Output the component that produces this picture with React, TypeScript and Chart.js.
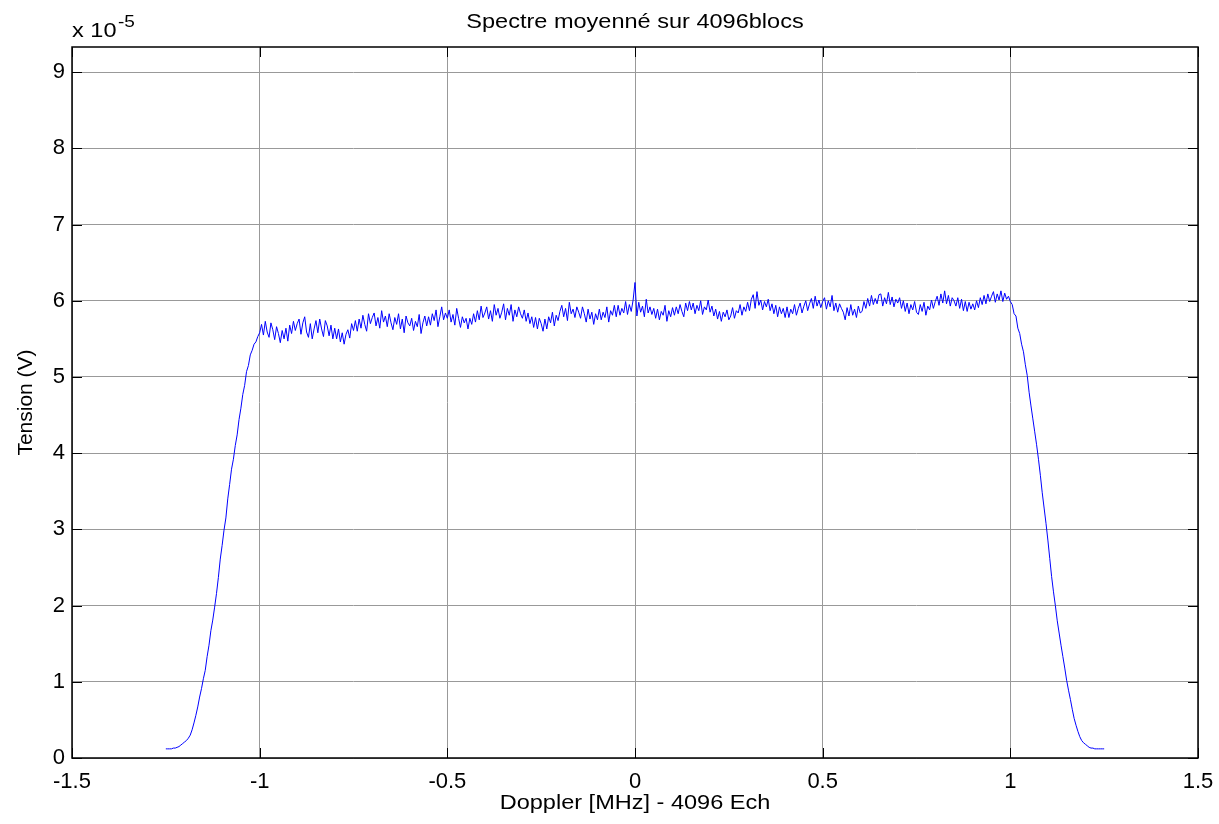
import React, { useEffect, useRef } from "react";
import { Chart, registerables } from "chart.js";

Chart.register(...registerables);

// ---- Texts ----
const TITLE = "Spectre moyenné sur 4096blocs";
const X_LABEL = "Doppler [MHz] - 4096 Ech";
const Y_LABEL = "Tension (V)";
const Y_EXPONENT_BASE = "x 10";
const Y_EXPONENT = "-5";

// ---- Axes ----
const X_TICKS = [-1.5, -1, -0.5, 0, 0.5, 1, 1.5];
const Y_TICKS = [0, 1, 2, 3, 4, 5, 6, 7, 8, 9];
const X_MIN = -1.5;
const X_MAX = 1.5;
const Y_MIN = 0;
const Y_MAX = 9.33;

// ---- Frequency grid of the spectrum (MHz) ----
const FREQ_START = -1.25;
const FREQ_STEP = 0.005;

// ---- Averaged spectrum, in units of 1e-5 V ----
const LEFT_EDGE = [
  0.12, 0.12, 0.12, 0.12, 0.13, 0.13, 0.14, 0.15, 0.17, 0.19,
  0.21, 0.23, 0.26, 0.30, 0.37, 0.46, 0.56, 0.67, 0.80, 0.91,
  1.04, 1.15, 1.33, 1.48, 1.67, 1.81, 1.98, 2.16, 2.37, 2.61,
  2.79, 2.99, 3.15, 3.40, 3.59, 3.79, 3.92, 4.10, 4.24, 4.44,
  4.59, 4.77, 4.89, 5.07, 5.15, 5.29, 5.35, 5.43, 5.46, 5.53,
  5.58,
];

const PLATEAU = [
  5.69, 5.55, 5.73, 5.59, 5.52, 5.71, 5.62, 5.49, 5.66, 5.57,
  5.45, 5.61, 5.50, 5.64, 5.47, 5.68, 5.57, 5.73, 5.61, 5.70,
  5.76, 5.56, 5.71, 5.79, 5.59, 5.52, 5.70, 5.50, 5.63, 5.74,
  5.58, 5.76, 5.63, 5.53, 5.74, 5.67, 5.54, 5.68, 5.50, 5.64,
  5.50, 5.63, 5.46, 5.58, 5.43, 5.56, 5.62, 5.51, 5.70, 5.61,
  5.74, 5.60, 5.76, 5.64, 5.81, 5.69, 5.60, 5.83, 5.70, 5.78,
  5.84, 5.67, 5.78, 5.64, 5.87, 5.72, 5.80, 5.66, 5.83, 5.71,
  5.62, 5.78, 5.69, 5.83, 5.63, 5.76, 5.58, 5.80, 5.71, 5.67,
  5.77, 5.61, 5.73, 5.66, 5.82, 5.57, 5.71, 5.80, 5.67, 5.79,
  5.68, 5.83, 5.74, 5.88, 5.66, 5.79, 5.92, 5.75, 5.84, 5.77,
  5.88, 5.72, 5.82, 5.68, 5.90, 5.77, 5.65, 5.79, 5.71, 5.77,
  5.63, 5.77, 5.69, 5.83, 5.72, 5.87, 5.75, 5.93, 5.78, 5.84,
  5.92, 5.76, 5.87, 5.73, 5.95, 5.81, 5.90, 5.77, 5.85, 5.96,
  5.75, 5.90, 5.81, 5.95, 5.73, 5.88, 5.79, 5.92, 5.83, 5.77,
  5.88, 5.73, 5.84, 5.70, 5.79, 5.65, 5.78, 5.63, 5.77, 5.70,
  5.60, 5.76, 5.63, 5.79, 5.71, 5.85, 5.67, 5.81, 5.74, 5.86,
  5.94, 5.79, 5.90, 5.74, 5.98, 5.83, 5.89, 5.78, 5.92, 5.85,
  5.77, 5.92, 5.83, 5.72, 5.89, 5.76, 5.85, 5.69, 5.83, 5.75,
  5.89, 5.75, 5.85, 5.78, 5.92, 5.72, 5.87, 5.81, 5.94, 5.79,
  5.94, 5.81, 5.90, 5.84, 5.99, 5.82, 5.95, 5.86, 6.01, 6.24,
  5.80, 5.98, 5.85, 5.93, 5.79, 6.02, 5.84, 5.92, 5.82, 5.90,
  5.77, 5.89, 5.75, 5.86, 5.81, 5.94, 5.73, 5.87, 5.79, 5.91,
  5.81, 5.92, 5.83, 5.95, 5.86, 5.79, 5.97, 5.87, 5.99, 5.88,
  5.97, 5.83, 5.94, 5.87, 6.00, 5.82, 5.92, 5.88, 6.01, 5.85,
  5.93, 5.80, 5.89, 5.76, 5.86, 5.73, 5.85, 5.79, 5.88, 5.75,
  5.80, 5.91, 5.77, 5.87, 5.84, 5.95, 5.81, 5.92, 5.86, 5.98,
  5.87, 6.02, 6.08, 5.90, 6.12, 5.94, 6.01, 5.88, 5.99, 5.92,
  6.02, 5.87, 5.96, 5.83, 5.94, 5.79, 5.92, 5.83, 5.90, 5.78,
  5.92, 5.78, 5.89, 5.83, 5.95, 5.81, 5.90, 5.97, 5.84, 5.93,
  6.00, 5.87, 5.96, 6.03, 5.90, 6.06, 5.93, 6.01, 5.91, 5.99,
  6.04, 5.89, 6.00, 5.92, 6.07, 5.87, 5.97, 5.85, 5.96, 5.90,
  5.85, 5.75, 5.91, 5.80, 5.95, 5.81, 5.89, 5.78, 5.93, 5.84,
  5.86, 5.99, 5.90, 6.03, 5.93, 6.07, 5.95, 6.03, 5.96, 6.08,
  6.09, 5.93, 6.04, 5.96, 6.11, 5.95, 6.05, 5.92, 6.02, 5.97,
  6.04, 5.90, 6.00, 5.86, 5.97, 5.83, 5.95, 5.88, 5.99, 5.85,
  5.82, 5.95, 5.86, 5.98, 5.81, 5.93, 5.88, 6.01, 5.90, 5.99,
  6.06, 5.94, 6.09, 5.97, 6.13, 5.96, 6.07, 5.93, 6.04, 6.00,
  5.93, 6.04, 5.90, 6.02, 5.87, 5.99, 5.86, 5.98, 5.89, 5.96,
  5.88, 6.00, 5.91, 6.04, 5.95, 6.07, 5.96, 6.09, 5.99, 6.06,
  6.12, 5.98, 6.09, 6.01, 6.13, 5.99, 6.10, 6.02, 6.06,
];

const RIGHT_EDGE = [
  5.99, 5.95, 5.83, 5.80, 5.64, 5.57, 5.43, 5.33, 5.16, 5.02,
  4.80, 4.62, 4.45, 4.28, 4.11, 3.92, 3.71, 3.48, 3.28, 3.08,
  2.86, 2.62, 2.38, 2.18, 2.00, 1.80, 1.64, 1.48, 1.33, 1.18,
  1.02, 0.89, 0.77, 0.64, 0.52, 0.43, 0.35, 0.28, 0.23, 0.20,
  0.18, 0.16, 0.14, 0.13, 0.13, 0.12, 0.12, 0.12, 0.12, 0.12,
  0.12,
];

const SPECTRUM = [...LEFT_EDGE, ...PLATEAU, ...RIGHT_EDGE];

const FONT = "'Liberation Sans', Arial, Helvetica, sans-serif";
const STRETCH = 1.12;

function stretchedText(
  ctx: CanvasRenderingContext2D,
  text: string,
  x: number,
  y: number,
  size: number,
  align: CanvasTextAlign,
  baseline: CanvasTextBaseline
) {
  ctx.save();
  ctx.translate(x, y);
  ctx.scale(STRETCH, 1);
  ctx.font = `${size}px ${FONT}`;
  ctx.textAlign = align;
  ctx.textBaseline = baseline;
  ctx.fillText(text, 0, 0);
  ctx.restore();
}

const matlabFrame = {
  id: "matlabFrame",
  afterDraw(chart: any) {
    const { ctx, chartArea: a, scales } = chart;
    const xs = scales.x;
    const ys = scales.y;
    const TL = 10;
    ctx.save();
    ctx.strokeStyle = "#000";
    ctx.lineWidth = 1;
    ctx.beginPath();
    for (const v of X_TICKS) {
      const px = Math.round(xs.getPixelForValue(v)) + 0.5;
      ctx.moveTo(px, a.bottom);
      ctx.lineTo(px, a.bottom - TL);
      ctx.moveTo(px, a.top);
      ctx.lineTo(px, a.top + TL);
    }
    for (const v of Y_TICKS) {
      const py = Math.round(ys.getPixelForValue(v)) + 0.5;
      ctx.moveTo(a.left, py);
      ctx.lineTo(a.left + TL, py);
      ctx.moveTo(a.right, py);
      ctx.lineTo(a.right - TL, py);
    }
    ctx.stroke();
    ctx.lineWidth = 1.5;
    ctx.strokeRect(a.left, a.top, a.right - a.left, a.bottom - a.top);

    ctx.fillStyle = "#000";
    const cx = (a.left + a.right) / 2;
    stretchedText(ctx, TITLE, cx, 22, 21, "center", "middle");
    stretchedText(ctx, X_LABEL, cx, 803, 21, "center", "middle");
    stretchedText(ctx, Y_EXPONENT_BASE, a.left, 37, 21, "left", "alphabetic");
    stretchedText(ctx, Y_EXPONENT, a.left + 46, 27, 17, "left", "alphabetic");

    ctx.save();
    ctx.translate(26, (a.top + a.bottom) / 2);
    ctx.rotate(-Math.PI / 2);
    ctx.font = `21px ${FONT}`;
    ctx.textAlign = "center";
    ctx.textBaseline = "middle";
    ctx.fillText(Y_LABEL, 0, 0);
    ctx.restore();

    ctx.restore();
  },
};

export default function App() {
  const canvasRef = useRef<HTMLCanvasElement | null>(null);

  useEffect(() => {
    const canvas = canvasRef.current;
    if (!canvas) return;
    const points = SPECTRUM.map((v, i) => ({ x: FREQ_START + i * FREQ_STEP, y: v }));
    const chart = new Chart(canvas, {
      type: "scatter",
      data: {
        datasets: [
          {
            data: points,
            showLine: true,
            borderColor: "#0000ff",
            borderWidth: 1,
            pointRadius: 0,
            pointHoverRadius: 0,
            tension: 0,
          },
        ],
      },
      options: {
        responsive: false,
        animation: false,
        events: [],
        layout: { padding: { left: 0, right: 21, top: 47, bottom: 0 } },
        plugins: {
          legend: { display: false },
          title: { display: false },
          tooltip: { enabled: false },
        },
        scales: {
          x: {
            type: "linear",
            min: X_MIN,
            max: X_MAX,
            afterBuildTicks: (scale: any) => {
              scale.ticks = X_TICKS.map((v) => ({ value: v }));
            },
            afterFit: (scale: any) => {
              scale.height = 66;
              scale.paddingLeft = 0;
              scale.paddingRight = 0;
            },
            ticks: {
              autoSkip: false,
              maxRotation: 0,
              padding: 11,
              color: "#000",
              font: { family: FONT, size: 22 },
              callback: (v: any) => String(v),
            },
            grid: { color: "#999999", lineWidth: 1, drawTicks: false },
            border: { display: false },
          },
          y: {
            type: "linear",
            min: Y_MIN,
            max: Y_MAX,
            afterBuildTicks: (scale: any) => {
              scale.ticks = Y_TICKS.map((v) => ({ value: v }));
            },
            afterFit: (scale: any) => {
              scale.width = 72;
              scale.paddingTop = 0;
              scale.paddingBottom = 0;
            },
            ticks: {
              autoSkip: false,
              padding: 7,
              color: "#000",
              font: { family: FONT, size: 22 },
              callback: (v: any) => String(v),
            },
            grid: { color: "#999999", lineWidth: 1, drawTicks: false },
            border: { display: false },
          },
        },
      },
      plugins: [matlabFrame],
    });
    return () => chart.destroy();
  }, []);

  return (
    <div style={{ position: "absolute", left: 0, top: 0, width: 1219, height: 824, background: "#fff" }}>
      <canvas ref={canvasRef} width={1219} height={824} />
    </div>
  );
}
